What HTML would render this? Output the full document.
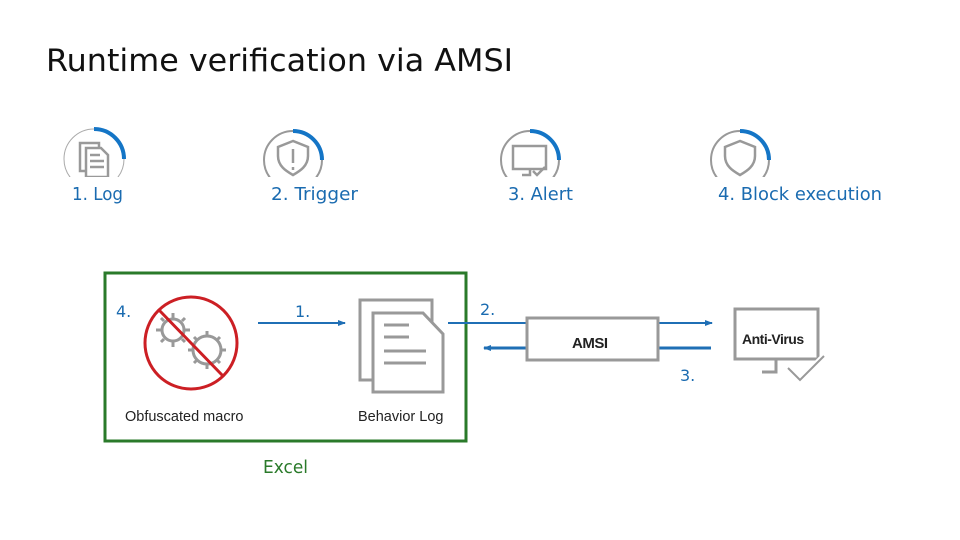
<!DOCTYPE html>
<html><head><meta charset="utf-8"><style>
body{margin:0;background:#fff;}
svg{display:block}
text{font-family:"DejaVu Sans","Liberation Sans",sans-serif}
.l{font-family:"Liberation Sans",sans-serif}
</style></head><body>
<svg width="960" height="540" viewBox="0 0 960 540" xmlns="http://www.w3.org/2000/svg">
<defs>
<clipPath id="c"><rect x="0" y="0" width="960" height="177"/></clipPath>
<marker id="a" markerWidth="8" markerHeight="8" refX="7" refY="4" orient="auto" markerUnits="userSpaceOnUse"><path d="M0,1 L8,4 L0,7 z" fill="#1f6fb5"/></marker>
</defs>
<text x="46" y="71" font-size="31" fill="#111" textLength="467" lengthAdjust="spacingAndGlyphs">Runtime verification via AMSI</text>

<g clip-path="url(#c)" fill="none">
<circle cx="94" cy="159" r="30" stroke="#aaa" stroke-width="1"/>
<path d="M94,129 A30,30 0 0 1 124,159" stroke="#1475c6" stroke-width="4"/>
<circle cx="293" cy="160" r="29" stroke="#999" stroke-width="2"/>
<path d="M293,131 A29,29 0 0 1 322,160" stroke="#1475c6" stroke-width="4"/>
<circle cx="530" cy="160" r="29" stroke="#999" stroke-width="2"/>
<path d="M530,131 A29,29 0 0 1 559,160" stroke="#1475c6" stroke-width="4"/>
<circle cx="740" cy="160" r="29" stroke="#999" stroke-width="2"/>
<path d="M740,131 A29,29 0 0 1 769,160" stroke="#1475c6" stroke-width="4"/>
</g>
<g fill="none" stroke="#999" stroke-width="2.5" clip-path="url(#c)">
<path d="M80,143 h19 v28 h-19 z"/><path d="M86,148 h15 l7,7 v22 h-22 z" fill="#fff"/>
<path d="M90,155 h10 M90,161 h14 M90,167 h14"/>
<path d="M293,141 l-15,6 v9 c0,10 8,15 15,19 c7,-4 15,-9 15,-19 v-9 z"/><path d="M293,149 v14 M293,167 v3"/>
<path d="M513,146 h33 v23 h-33 z"/><path d="M522,175 h8 v-6 M533,171 l4,4 l8,-8"/>
<path d="M740,141 l-15,6 v9 c0,10 8,15 15,19 c7,-4 15,-9 15,-19 v-9 z"/>
</g>
<g font-size="18" fill="#1a6bb0">
<text x="72" y="200" textLength="51" lengthAdjust="spacingAndGlyphs">1. Log</text>
<text x="271" y="200" textLength="87" lengthAdjust="spacingAndGlyphs">2. Trigger</text>
<text x="508" y="200" textLength="65" lengthAdjust="spacingAndGlyphs">3. Alert</text>
<text x="718" y="200" textLength="164" lengthAdjust="spacingAndGlyphs">4. Block execution</text>
</g>

<rect x="105" y="273" width="361" height="168" fill="none" stroke="#2a7a2a" stroke-width="3"/>
<g font-size="16" fill="#1a6bb0">
<text x="116" y="317">4.</text>
<text x="295" y="317">1.</text>
<text x="480" y="315">2.</text>
<text x="680" y="381">3.</text>
</g>
<g fill="none" stroke="#999" stroke-width="3">
<circle cx="173" cy="330" r="11"/>
<circle cx="207" cy="350" r="14"/>
<path d="M173,313 v5 M173,342 v5 M156,330 h5 M185,330 h5 M161,318 l3,3 M182,339 l3,3 M185,318 l-3,3 M161,342 l3,-3"/>
<path d="M207,331 v5 M207,364 v5 M188,350 h5 M221,350 h5 M194,337 l3,3 M217,360 l3,3 M220,337 l-3,3 M194,363 l3,-3"/>
</g>
<circle cx="191" cy="343" r="46" fill="none" stroke="#cc1f24" stroke-width="3"/>
<path d="M159,310 L223,376" stroke="#cc1f24" stroke-width="3"/>
<text class="l" x="125" y="421" font-size="14.5" fill="#222">Obfuscated macro</text>
<g fill="none" stroke="#999" stroke-width="3">
<path d="M360,300 h72 v80 h-72 z"/>
<path d="M373,313 h50 l20,21 v58 h-70 z" fill="#fff"/>
<path d="M384,325 h25 M384,337 h25 M384,351 h42 M384,363 h42"/>
</g>
<text class="l" x="358" y="421" font-size="14.5" fill="#222">Behavior Log</text>
<text x="263" y="473" font-size="18" fill="#2a7a2a" textLength="45" lengthAdjust="spacingAndGlyphs">Excel</text>
<g stroke="#1f6fb5" stroke-width="2" fill="none">
<path d="M258,323 H345" marker-end="url(#a)"/>
<path d="M448,323 H527"/>
<path d="M527,348 H484" stroke-width="3" marker-end="url(#a)"/>
<path d="M658,323 H712" marker-end="url(#a)"/>
<path d="M658,348 H711" stroke-width="3"/>
</g>
<rect x="527" y="318" width="131" height="42" fill="#fff" stroke="#999" stroke-width="3"/>
<text class="l" x="572" y="348" font-size="15" font-weight="bold" fill="#222" letter-spacing="-0.5">AMSI</text>
<g fill="none" stroke="#999" stroke-width="3">
<path d="M735,309 h83 v50 h-83 z"/>
<path d="M762,372 h14 v-13"/>
</g>
<path d="M788,368 l12,12 l24,-24" fill="none" stroke="#fff" stroke-width="6"/>
<path d="M788,368 l12,12 l24,-24" fill="none" stroke="#999" stroke-width="2"/>
<text class="l" x="742" y="344" font-size="14" font-weight="bold" fill="#222" letter-spacing="-0.5">Anti-Virus</text>
</svg>
</body></html>
